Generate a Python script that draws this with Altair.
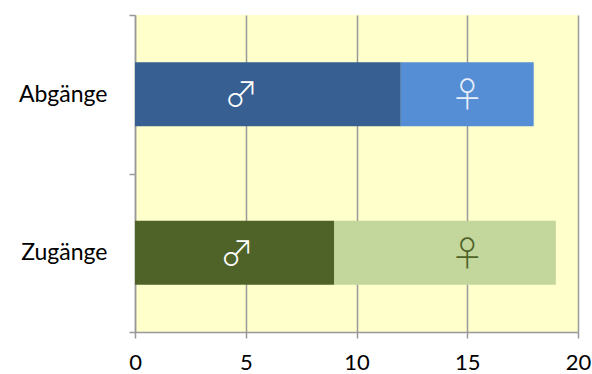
import altair as alt
import pandas as pd

categories = ["Abgänge", "Zugänge"]
male = [12, 9]
female = [6, 10]
male_label_x = [4.8, 4.6]
female_label_x = [15.0, 15.0]
sexes = ["m", "w"]
symbols = {"m": "♂", "w": "♀"}
bar_colors = {("Abgänge", "m"): "#375F92", ("Abgänge", "w"): "#558ED5",
              ("Zugänge", "m"): "#4F6228", ("Zugänge", "w"): "#C3D69B"}
sym_colors = {("Abgänge", "m"): "#FFFFFF", ("Abgänge", "w"): "#E8EEF8",
              ("Zugänge", "m"): "#FFFFFF", ("Zugänge", "w"): "#4F6228"}

rows = []
for i, c in enumerate(categories):
    for s, v, lx in (("m", male[i], male_label_x[i]), ("w", female[i], female_label_x[i])):
        rows.append({"cat": c, "sex": s, "value": v, "order": sexes.index(s),
                     "color": bar_colors[(c, s)], "sym": symbols[s],
                     "symcolor": sym_colors[(c, s)], "lx": lx})
df = pd.DataFrame(rows)

ycat = alt.Y("cat:N", sort=categories, title=None,
             scale=alt.Scale(paddingInner=0, paddingOuter=0),
             axis=alt.Axis(tickBand="extent", domainColor="#999999", tickColor="#999999",
                           tickSize=6, labelFontSize=23, labelFont="Lato", labelColor="#000000",
                           labelPadding=22, domainWidth=1.5, tickWidth=1.5))

bars = alt.Chart(df).mark_bar(height={"band": 0.405}).encode(
    y=ycat,
    x=alt.X("value:Q", stack="zero", title=None,
            scale=alt.Scale(domain=[0, 20], nice=False),
            axis=alt.Axis(values=[0, 5, 10, 15, 20], gridColor="#999999", gridWidth=1.5,
                          domainColor="#999999", tickColor="#999999", tickSize=6,
                          domainWidth=1.5, tickWidth=1.5, labelFlush=False,
                          labelFontSize=22, labelFont="Lato", labelColor="#000000",
                          labelPadding=14)),
    color=alt.Color("color:N", scale=None),
    order=alt.Order("order:Q"),
)

labels = alt.Chart(df).mark_text(font="Noto Sans CJK JP", fontSize=34, fontWeight=300,
                                 baseline="middle", dy=3).encode(
    y=alt.Y("cat:N", sort=categories),
    x=alt.X("lx:Q"),
    text="sym:N",
    color=alt.Color("symcolor:N", scale=None),
)

chart = alt.layer(bars, labels).properties(
    width=443, height=317, autosize="none", background="#FFFFFF",
    padding={"left": 135, "top": 15, "right": 14, "bottom": 42},
).configure_view(fill="#FFFFCC", stroke=None)

chart.save("out.html", embed_options={"renderer": "svg", "actions": False})
